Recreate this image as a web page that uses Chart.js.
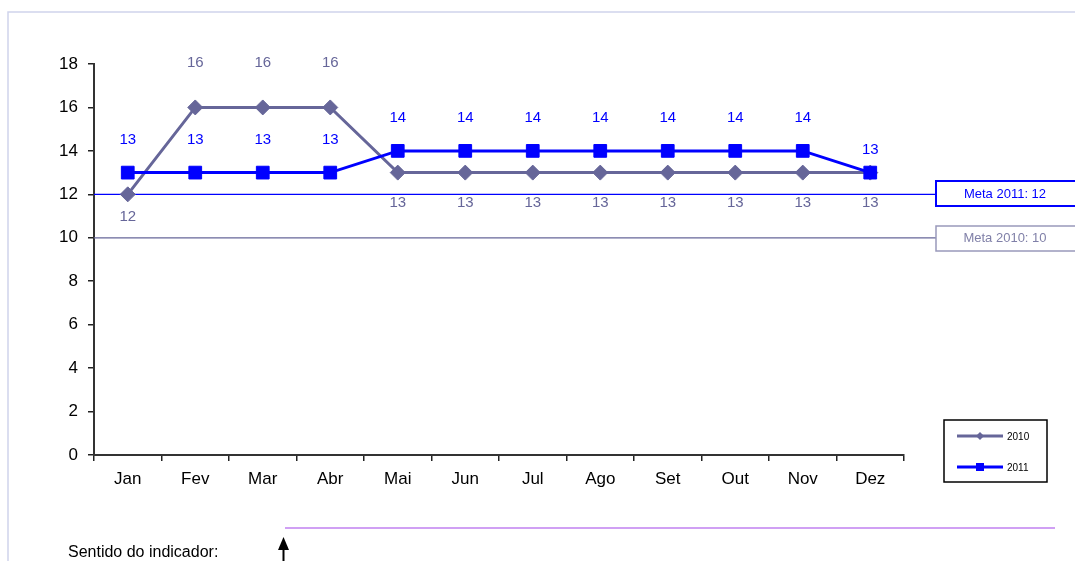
<!DOCTYPE html>
<html>
<head>
<meta charset="utf-8">
<script src="https://cdn.jsdelivr.net/npm/chart.js@4/dist/chart.umd.min.js"></script>
<style>
  html, body { margin: 0; padding: 0; background: #fff; }
  #wrap { position: relative; width: 1075px; height: 561px; }
</style>
</head>
<body>
<div id="wrap"><canvas id="chart" width="1075" height="561"></canvas></div>
<script>
// Chart data
const months = ['Jan', 'Fev', 'Mar', 'Abr', 'Mai', 'Jun', 'Jul', 'Ago', 'Set', 'Out', 'Nov', 'Dez'];
const values2010 = [12, 16, 16, 16, 13, 13, 13, 13, 13, 13, 13, 13];
const values2011 = [13, 13, 13, 13, 14, 14, 14, 14, 14, 14, 14, 13];
const meta2010 = 10;
const meta2011 = 12;
const yTicks = [0, 2, 4, 6, 8, 10, 12, 14, 16, 18];

const color2010 = '#666699';
const color2011 = '#0000ff';
const FONT = '"Liberation Sans", Arial, sans-serif';

// Draws labels, goal lines, legend and footer on top of the chart
const extrasPlugin = {
  id: 'extras',
  beforeDatasetsDraw(chart) {
    const ctx = chart.ctx;
    const y = chart.scales.y;
    const left = chart.chartArea.left;

    // goal lines
    ctx.save();
    ctx.lineWidth = 1.2;
    ctx.strokeStyle = color2011;
    ctx.beginPath();
    ctx.moveTo(left, y.getPixelForValue(meta2011));
    ctx.lineTo(936, y.getPixelForValue(meta2011));
    ctx.stroke();
    ctx.strokeStyle = color2010;
    ctx.beginPath();
    ctx.moveTo(left, y.getPixelForValue(meta2010));
    ctx.lineTo(936, y.getPixelForValue(meta2010));
    ctx.stroke();
    ctx.restore();
  },
  afterDatasetsDraw(chart) {
    const ctx = chart.ctx;
    ctx.save();

    // goal boxes
    ctx.lineWidth = 2;
    ctx.strokeStyle = color2011;
    ctx.strokeRect(936, 181, 150, 25);
    ctx.lineWidth = 1.5;
    ctx.strokeStyle = '#9999bb';
    ctx.strokeRect(936, 226, 150, 25);
    ctx.font = '13px ' + FONT;
    ctx.textAlign = 'center';
    ctx.textBaseline = 'middle';
    ctx.fillStyle = color2011;
    ctx.fillText('Meta 2011: ' + meta2011, 1005, 194);
    ctx.fillStyle = '#8080a8';
    ctx.fillText('Meta 2010: ' + meta2010, 1005, 238);

    // data labels
    ctx.font = '15px ' + FONT;
    const m0 = chart.getDatasetMeta(0);
    const m1 = chart.getDatasetMeta(1);
    ctx.fillStyle = color2010;
    m0.data.forEach((pt, i) => {
      const v = values2010[i];
      let off = v > values2011[i] ? -45 : 30;
      if (i === 0) off = 23;
      ctx.fillText(String(v), pt.x, pt.y + off);
    });
    ctx.fillStyle = color2011;
    m1.data.forEach((pt, i) => {
      const off = i === m1.data.length - 1 ? -23 : -33;
      ctx.fillText(String(values2011[i]), pt.x, pt.y + off);
    });

    // legend
    ctx.lineWidth = 1.5;
    ctx.strokeStyle = '#000';
    ctx.strokeRect(944, 420, 103, 62);
    ctx.lineWidth = 3;
    ctx.strokeStyle = color2010;
    ctx.beginPath();
    ctx.moveTo(957, 436);
    ctx.lineTo(1003, 436);
    ctx.stroke();
    ctx.fillStyle = color2010;
    ctx.beginPath();
    ctx.moveTo(980, 432); ctx.lineTo(984, 436); ctx.lineTo(980, 440); ctx.lineTo(976, 436);
    ctx.closePath();
    ctx.fill();
    ctx.strokeStyle = color2011;
    ctx.beginPath();
    ctx.moveTo(957, 467);
    ctx.lineTo(1003, 467);
    ctx.stroke();
    ctx.fillStyle = color2011;
    ctx.fillRect(976, 463, 8, 8);
    ctx.fillStyle = '#000';
    ctx.font = '10px ' + FONT;
    ctx.textAlign = 'left';
    ctx.fillText('2010', 1007, 437);
    ctx.fillText('2011', 1007, 468);

    // footer
    ctx.lineWidth = 1.5;
    ctx.strokeStyle = '#c080f0';
    ctx.beginPath();
    ctx.moveTo(285, 528);
    ctx.lineTo(1055, 528);
    ctx.stroke();
    ctx.fillStyle = '#000';
    ctx.font = '16px ' + FONT;
    ctx.textBaseline = 'alphabetic';
    ctx.fillText('Sentido do indicador:', 68, 557);
    ctx.strokeStyle = '#000';
    ctx.lineWidth = 2;
    ctx.beginPath();
    ctx.moveTo(283.5, 547);
    ctx.lineTo(283.5, 561);
    ctx.stroke();
    ctx.beginPath();
    ctx.moveTo(283.5, 537); ctx.lineTo(289, 550); ctx.lineTo(278, 550);
    ctx.closePath();
    ctx.fill();

    // outer frame
    ctx.lineWidth = 1.5;
    ctx.strokeStyle = '#d0d4ec';
    ctx.beginPath();
    ctx.moveTo(8, 561);
    ctx.lineTo(8, 12);
    ctx.lineTo(1075, 12);
    ctx.stroke();
    ctx.restore();
  }
};

const ctx = document.getElementById('chart').getContext('2d');
new Chart(ctx, {
  type: 'line',
  data: {
    labels: months,
    datasets: [
      {
        label: '2010',
        data: values2010,
        order: 1,
        borderColor: color2010,
        backgroundColor: color2010,
        borderWidth: 3,
        pointStyle: 'rectRot',
        pointRadius: 7.5,
        pointBorderWidth: 1,
        tension: 0
      },
      {
        label: '2011',
        data: values2011,
        order: 0,
        borderColor: color2011,
        backgroundColor: color2011,
        borderWidth: 3,
        pointStyle: 'rect',
        pointRadius: 9,
        pointBorderWidth: 1,
        tension: 0
      }
    ]
  },
  options: {
    responsive: false,
    animation: false,
    layout: { padding: { left: 8, right: 171, top: 64, bottom: 71 } },
    plugins: {
      legend: { display: false },
      tooltip: { enabled: false }
    },
    scales: {
      x: {
        offset: true,
        grid: { offset: true, drawOnChartArea: false, drawTicks: true, tickLength: 6, color: '#222', lineWidth: 1.5 },
        border: { color: '#333', width: 2 },
        ticks: { color: '#000', font: { family: FONT, size: 17 }, padding: 8, maxRotation: 0 },
        afterFit(scale) { scale.height = 35; }
      },
      y: {
        min: 0,
        max: 18,
        afterBuildTicks(scale) { scale.ticks = yTicks.map(v => ({ value: v })); },
        grid: { drawOnChartArea: false, drawTicks: true, tickLength: 6, color: '#222', lineWidth: 1.5 },
        border: { color: '#333', width: 2 },
        ticks: { color: '#000', font: { family: FONT, size: 17 }, padding: 10 },
        afterFit(scale) { scale.width = 86; }
      }
    }
  },
  plugins: [extrasPlugin]
});
</script>
</body>
</html>
